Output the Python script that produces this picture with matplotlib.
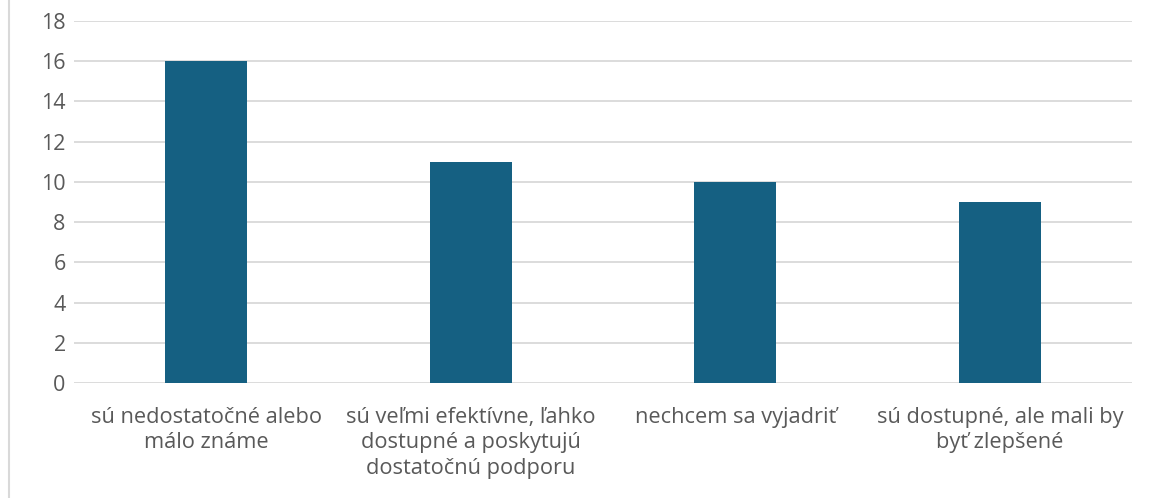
import matplotlib.pyplot as plt
from matplotlib.lines import Line2D

categories = [
    "sú nedostatočné alebo\nmálo známe",
    "sú veľmi efektívne, ľahko\ndostupné a poskytujú\ndostatočnú podporu",
    "nechcem sa vyjadriť",
    "sú dostupné, ale mali by\nbyť zlepšené",
]
values = [16, 11, 10, 9]
yticks = [0, 2, 4, 6, 8, 10, 12, 14, 16, 18]

plt.rcParams['font.family'] = ['Open Sans', 'DejaVu Sans']

fig = plt.figure(figsize=(11.51, 4.98), dpi=100)
ax = fig.add_axes([0.0643, 0.2309, 0.9192, 0.7269])

x = range(len(categories))
ax.bar(x, values, width=0.31, color='#156082', zorder=3)

ax.set_xlim(-0.5, len(categories) - 0.5)
ax.set_ylim(0, 18)
ax.set_yticks(yticks)
ax.set_xticks(list(x))
ax.set_xticklabels(categories, fontsize=15.7, color='#595959', linespacing=1.3)
ax.tick_params(axis='y', labelsize=15.5, labelcolor='#595959', length=0, pad=6)
ax.tick_params(axis='x', length=0, pad=17)
ax.grid(axis='y', color='#d9d9d9', linewidth=1.3, zorder=0)
for s in ax.spines.values():
    s.set_visible(False)

fig.add_artist(Line2D([9 / 1151, 9 / 1151], [0, 1], color='#d9d9d9', linewidth=1.5))

fig.savefig('out.png', dpi=100)
